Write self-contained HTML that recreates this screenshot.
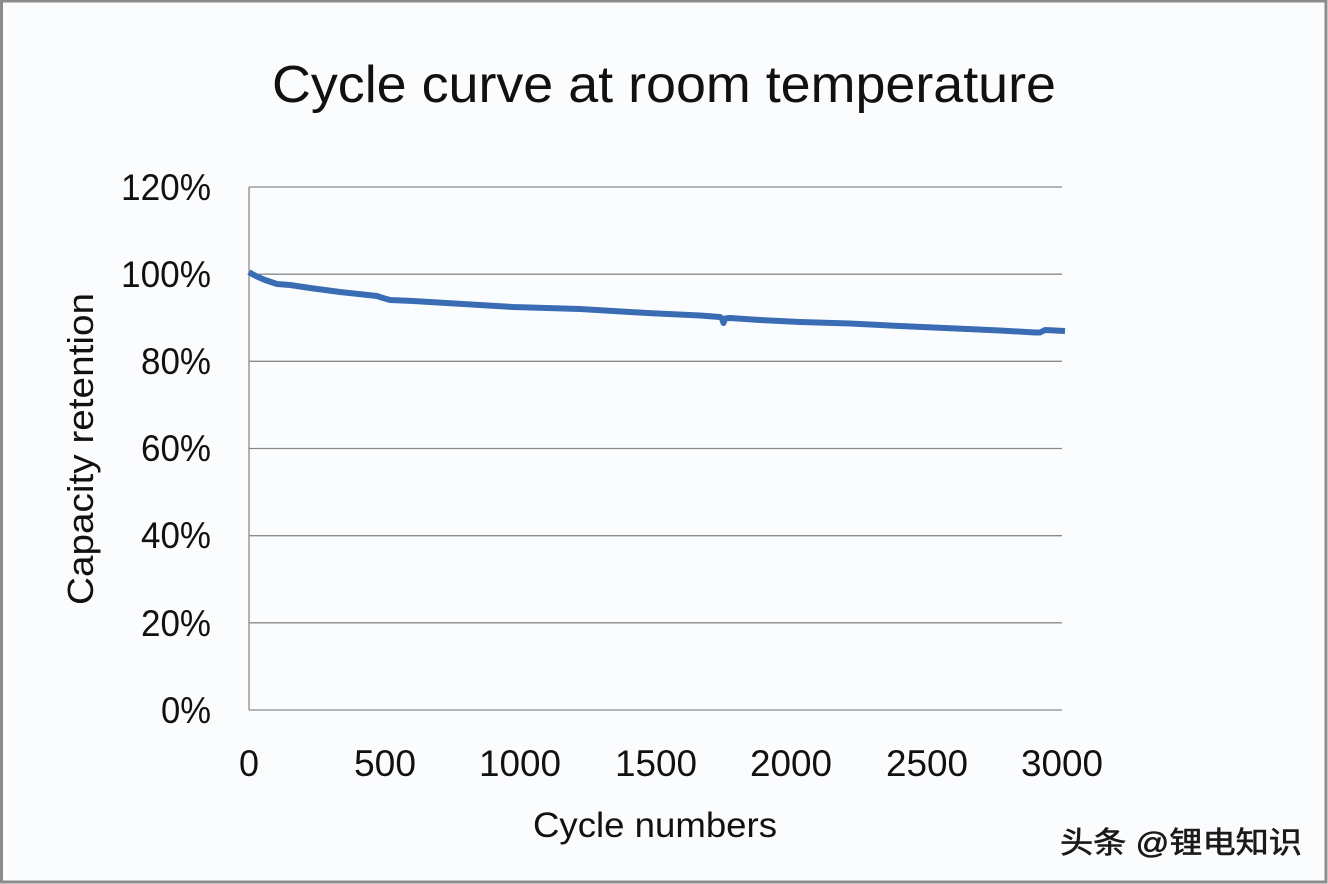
<!DOCTYPE html>
<html>
<head>
<meta charset="utf-8">
<style>
html,body{margin:0;padding:0;}
body{width:1328px;height:884px;overflow:hidden;background:#fbfcfe;}
svg{display:block;}
</style>
</head>
<body>
<svg width="1328" height="884" viewBox="0 0 1328 884" xmlns="http://www.w3.org/2000/svg">
  <rect x="0" y="0" width="1328" height="884" fill="#fbfcfe"/>
  <!-- outer border -->
  <rect x="1.5" y="1" width="1324.5" height="881" fill="none" stroke="#8c8c8c" stroke-width="3"/>

  <!-- title -->
  <text x="664" y="102" text-anchor="middle" font-family="'Liberation Sans', Arial, sans-serif" font-size="52" fill="#111" textLength="784" lengthAdjust="spacingAndGlyphs">Cycle curve at room temperature</text>

  <!-- gridlines -->
  <g stroke="#8a8a8a" stroke-width="1.3">
    <line x1="249" y1="187" x2="1062" y2="187"/>
    <line x1="249" y1="274.2" x2="1062" y2="274.2"/>
    <line x1="249" y1="361.3" x2="1062" y2="361.3"/>
    <line x1="249" y1="448.5" x2="1062" y2="448.5"/>
    <line x1="249" y1="535.7" x2="1062" y2="535.7"/>
    <line x1="249" y1="622.8" x2="1062" y2="622.8"/>
    <line x1="249" y1="710" x2="1062" y2="710"/>
    <line x1="249" y1="187" x2="249" y2="710"/>
  </g>

  <!-- y tick labels -->
  <g font-family="'Liberation Sans', Arial, sans-serif" font-size="37" fill="#111" text-anchor="end">
    <text x="211" y="200" textLength="90" lengthAdjust="spacingAndGlyphs">120%</text>
    <text x="211" y="287" textLength="90" lengthAdjust="spacingAndGlyphs">100%</text>
    <text x="211" y="374" textLength="70" lengthAdjust="spacingAndGlyphs">80%</text>
    <text x="211" y="461" textLength="70" lengthAdjust="spacingAndGlyphs">60%</text>
    <text x="211" y="548" textLength="70" lengthAdjust="spacingAndGlyphs">40%</text>
    <text x="211" y="636" textLength="70" lengthAdjust="spacingAndGlyphs">20%</text>
    <text x="211" y="723" textLength="50" lengthAdjust="spacingAndGlyphs">0%</text>
  </g>

  <!-- x tick labels -->
  <g font-family="'Liberation Sans', Arial, sans-serif" font-size="37" fill="#111" text-anchor="middle">
    <text x="249" y="776" textLength="20" lengthAdjust="spacingAndGlyphs">0</text>
    <text x="385" y="776" textLength="62" lengthAdjust="spacingAndGlyphs">500</text>
    <text x="520" y="776" textLength="82" lengthAdjust="spacingAndGlyphs">1000</text>
    <text x="656" y="776" textLength="82" lengthAdjust="spacingAndGlyphs">1500</text>
    <text x="791" y="776" textLength="82" lengthAdjust="spacingAndGlyphs">2000</text>
    <text x="927" y="776" textLength="82" lengthAdjust="spacingAndGlyphs">2500</text>
    <text x="1062" y="776" textLength="82" lengthAdjust="spacingAndGlyphs">3000</text>
  </g>

  <!-- axis titles -->
  <text x="655" y="837" text-anchor="middle" font-family="'Liberation Sans', Arial, sans-serif" font-size="35" fill="#111" textLength="244" lengthAdjust="spacingAndGlyphs">Cycle numbers</text>
  <text transform="translate(93,449) rotate(-90)" x="0" y="0" text-anchor="middle" font-family="'Liberation Sans', Arial, sans-serif" font-size="36" fill="#111" textLength="312" lengthAdjust="spacingAndGlyphs">Capacity retention</text>

  <!-- data line -->
  <polyline fill="none" stroke="#3a6cb4" stroke-width="6" stroke-linejoin="round" stroke-linecap="butt"
    points="249,272 252,274 258,277 265,280 277,284 290,285 310,288 340,292 377,296 383,298 390,300 413,301 463,304 513,307 580,309 647,313 700,315.5 720,317 722,318.5 723.5,323 725,318.5 730,318 760,320 800,322 850,323.5 900,326 967,329 1000,330.5 1035,332.5 1040,332.5 1045,330 1065,331"/>

  <!-- watermark -->
  <text x="1060" y="853" font-family="'Liberation Sans', 'Noto Sans CJK SC', sans-serif" font-size="30" fill="#1a1a1a" stroke="#1a1a1a" stroke-width="0.6" textLength="242" lengthAdjust="spacingAndGlyphs">头条 @锂电知识</text>
</svg>
</body>
</html>
